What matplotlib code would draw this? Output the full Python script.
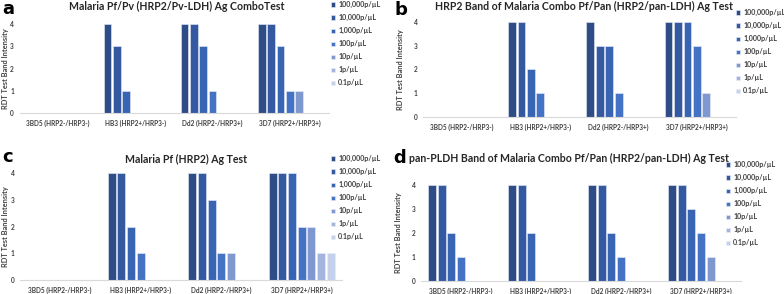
import numpy as np
import matplotlib
matplotlib.use("Agg")
import matplotlib.pyplot as plt

plt.rcParams['font.family'] = ['Lato', 'DejaVu Sans']

strains = ['3BD5 (HRP2-/HRP3-)', 'HB3 (HRP2+/HRP3-)', 'Dd2 (HRP2-/HRP3+)', '3D7 (HRP2+/HRP3+)']
densities = ['100,000p/µL', '10,000p/µL', '1,000p/µL', '100p/µL', '10p/µL', '1p/µL', '0.1p/µL']
colors = ['#2E4C85', '#3459A0', '#3865B3', '#4472C4', '#7F98D0', '#A3B5DE', '#C5D0EB']

# rows = strains, columns = parasite densities
vals_a = [[0, 0, 0, 0, 0, 0, 0],
          [4, 3, 1, 0, 0, 0, 0],
          [4, 4, 3, 1, 0, 0, 0],
          [4, 4, 3, 1, 1, 0, 0]]
vals_b = [[0, 0, 0, 0, 0, 0, 0],
          [4, 4, 2, 1, 0, 0, 0],
          [4, 3, 3, 1, 0, 0, 0],
          [4, 4, 4, 3, 1, 0, 0]]
vals_c = [[0, 0, 0, 0, 0, 0, 0],
          [4, 4, 2, 1, 0, 0, 0],
          [4, 4, 3, 1, 1, 0, 0],
          [4, 4, 4, 2, 2, 1, 1]]
vals_d = [[4, 4, 2, 1, 0, 0, 0],
          [4, 4, 2, 0, 0, 0, 0],
          [4, 4, 2, 1, 0, 0, 0],
          [4, 4, 3, 2, 1, 0, 0]]

titles = ['Malaria Pf/Pv (HRP2/Pv-LDH) Ag ComboTest',
          'HRP2 Band of Malaria Combo Pf/Pan (HRP2/pan-LDH) Ag Test',
          'Malaria Pf (HRP2) Ag Test',
          'pan-PLDH Band of Malaria Combo Pf/Pan (HRP2/pan-LDH) Ag Test']
letters = ['a', 'b', 'c', 'd']

W, H = 784, 294
fig = plt.figure(figsize=(7.84, 2.94), dpi=100)

# axes boxes in pixels: left, zero line y, right, y of value 4
boxes = [(19.5, 113, 328.5, 24),
         (423, 117, 736, 21.7),
         (20, 280, 342, 173),
         (421, 281, 741, 185)]
title_pos = [(177, 6), (584, 6), (186, 159), (569, 158)]
letter_pos = [(2, 9), (395, 10), (2, 157), (393, 158)]
ylab_x = [6, 400, 6, 398]
legend_pos = [(331, 1), (736, 9), (331, 155), (726, 161)]

gray = '#404040'
for i, vals in enumerate([vals_a, vals_b, vals_c, vals_d]):
    l, b0, r, t4 = boxes[i]
    ax = fig.add_axes([l / W, (H - b0) / H, (r - l) / W, (b0 - t4) / H])
    vals = np.array(vals)
    x = np.arange(len(strains))
    slot = 0.121
    handles = []
    for j in range(len(densities)):
        off = (j - 3) * slot
        h = ax.bar(x + off, vals[:, j], width=slot * 0.82, color=colors[j],
                   edgecolor='#E8EDF7', linewidth=0.4, label=densities[j])
        handles.append(h)
    ax.set_xlim(-0.5, 3.5)
    ax.set_ylim(0, 4)
    ax.set_yticks([0, 1, 2, 3, 4])
    ax.set_xticks(x)
    ax.set_xticklabels(strains)
    ax.tick_params(axis='both', length=0, labelsize=4.7, labelcolor=gray, pad=5)
    ax.tick_params(axis='y', pad=4)
    for lab in ax.get_xticklabels() + ax.get_yticklabels():
        lab.set_fontweight('bold')
    for s in ['top', 'right', 'left']:
        ax.spines[s].set_visible(False)
    ax.spines['bottom'].set_color('#D9D9D9')
    ax.spines['bottom'].set_linewidth(0.8)

    fig.text(ylab_x[i] / W, 1 - ((b0 + t4) / 2) / H, 'RDT Test Band Intensity',
             rotation=90, ha='center', va='center', fontsize=5.3,
             fontweight='bold', color=gray)
    tx, ty = title_pos[i]
    fig.text(tx / W, 1 - ty / H, titles[i], ha='center', va='center',
             fontsize=7.6, fontweight='bold', color='#262626')
    lx, ly = letter_pos[i]
    fig.text(lx / W, 1 - ly / H, letters[i], ha='left', va='center',
             fontsize=13, fontweight='bold', color='black',
             family=['DejaVu Sans'])
    gx, gy = legend_pos[i]
    leg = fig.legend(handles=handles, labels=densities, loc='upper left',
                     bbox_to_anchor=(gx / W, 1 - gy / H), frameon=False,
                     fontsize=5.1, handlelength=0.6, handleheight=0.6,
                     handletextpad=0.4, labelspacing=0.85, borderpad=0,
                     borderaxespad=0)
    for txt in leg.get_texts():
        txt.set_color(gray)
        txt.set_fontweight('bold')

fig.savefig('out.png', dpi=100)
